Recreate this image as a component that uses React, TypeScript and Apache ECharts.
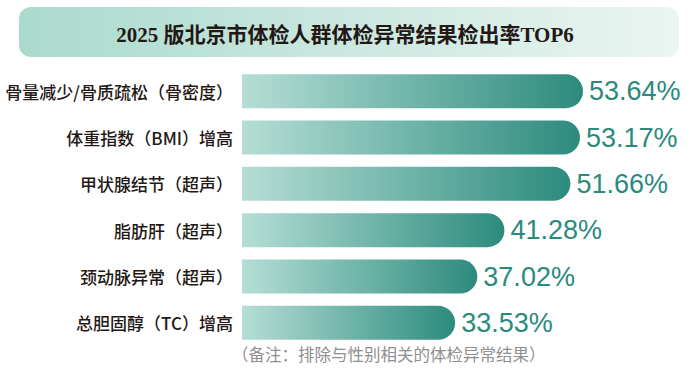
import React, { useEffect, useRef } from "react";
import * as echarts from "echarts";

const categories = [
  "骨量减少/骨质疏松（骨密度）",
  "体重指数（BMI）增高",
  "甲状腺结节（超声）",
  "脂肪肝（超声）",
  "颈动脉异常（超声）",
  "总胆固醇（TC）增高",
];
const values = [53.64, 53.17, 51.66, 41.28, 37.02, 33.53];
const titleText = "2025 版北京市体检人群体检异常结果检出率TOP6";
const noteText = "（备注：排除与性别相关的体检异常结果）";

export default function App() {
  const ref = useRef<HTMLDivElement>(null);
  useEffect(() => {
    if (!ref.current) return;
    const chart = echarts.init(ref.current, undefined, { renderer: "svg" });
    chart.setOption({
      animation: false,
      backgroundColor: "#ffffff",
      grid: { left: 242, right: 9, top: 68, bottom: 30, containLabel: false },
      xAxis: {
        type: "value",
        min: 0,
        max: 70,
        show: false,
      },
      yAxis: {
        type: "category",
        data: categories,
        inverse: true,
        axisLine: { show: false },
        axisTick: { show: false },
        axisLabel: {
          margin: 9,
          fontSize: 17,
          fontWeight: 500,
          color: "#231815",
          fontFamily: "Noto Sans CJK SC",
        },
      },
      series: [
        {
          type: "bar",
          data: values,
          barWidth: 34,
          itemStyle: {
            borderRadius: [0, 17, 17, 0],
            color: new echarts.graphic.LinearGradient(0, 0, 1, 0, [
              { offset: 0, color: "#b5ded5" },
              { offset: 1, color: "#2c8b7d" },
            ]),
          },
          label: {
            show: true,
            position: "right",
            distance: 6,
            fontSize: 27,
            color: "#2b8a7c",
            fontFamily: "Liberation Sans",
            formatter: (p: any) => p.value.toFixed(2) + "%",
          },
        },
      ],
      graphic: [
        {
          type: "rect",
          shape: { x: 19, y: 7, width: 660, height: 50, r: 12 },
          style: {
            fill: new echarts.graphic.LinearGradient(0, 0, 1, 0, [
              { offset: 0, color: "#abdacd" },
              { offset: 1, color: "#ebf5f2" },
            ]),
          },
          z: 0,
        },
        {
          type: "text",
          x: 345,
          y: 35,
          style: {
            text: titleText,
            fontSize: 21,
            fontWeight: "bold",
            fontFamily: "Liberation Serif, Noto Sans CJK SC",
            fill: "#231815",
            align: "center",
            verticalAlign: "middle",
          },
          z: 1,
        },
        {
          type: "text",
          x: 232,
          y: 354,
          style: {
            text: noteText,
            fontSize: 16.5,
            fontFamily: "Noto Sans CJK SC",
            fill: "#8f8f8f",
            align: "left",
            verticalAlign: "middle",
          },
        },
      ],
    });
    return () => chart.dispose();
  }, []);
  return <div ref={ref} style={{ width: 696, height: 376, position: "absolute", left: 0, top: 0 }} />;
}
